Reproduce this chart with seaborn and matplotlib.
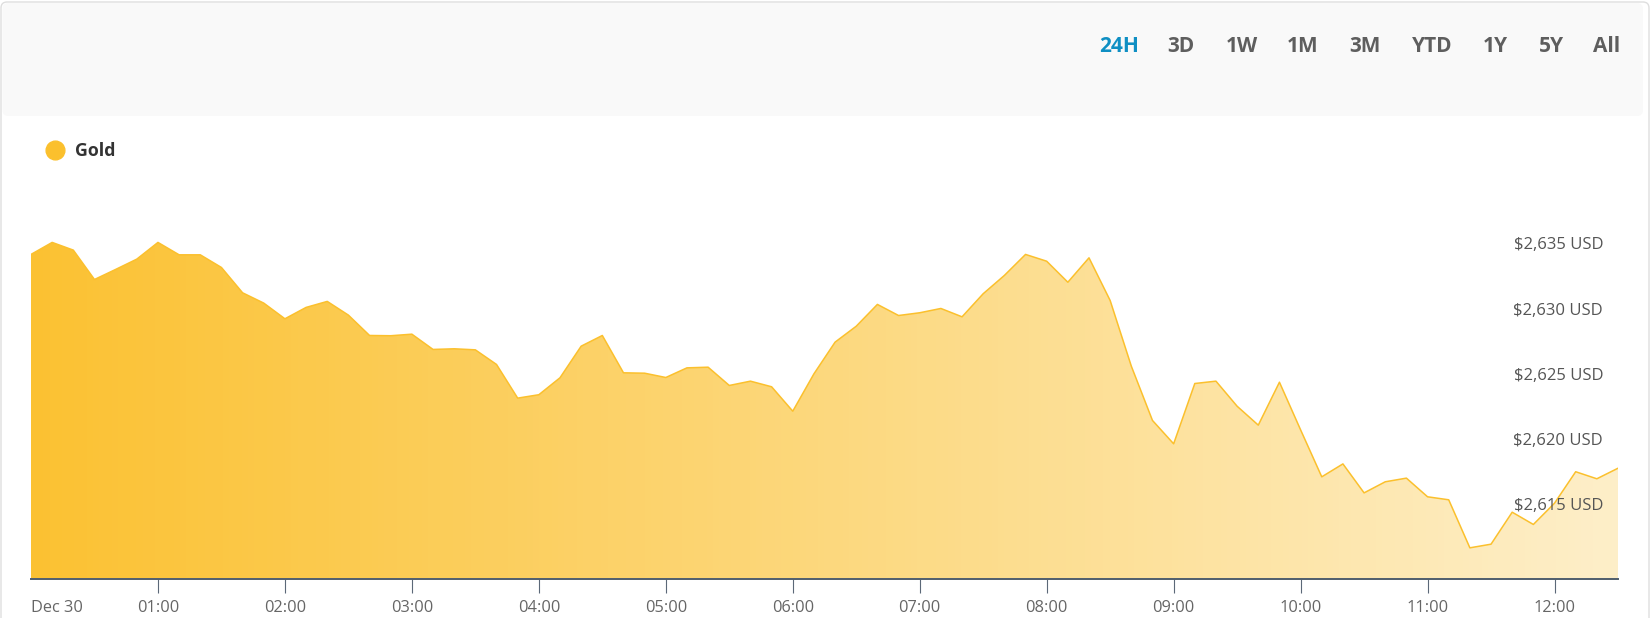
#!/usr/bin/env python3
# coding=utf-8

from matplotlib import pyplot as plt
from matplotlib.lines import Line2D
from matplotlib.patches import FancyBboxPatch, PathPatch
from matplotlib.colors import to_rgb
import seaborn as sns
import numpy as np
import pandas as pd

# gold price, Dec 30, one point every 10 minutes from 00:00 to 12:30
prices = [
    2634.16, 2635.08, 2634.49, 2632.24, 2633.01, 2633.80, 2635.08, 2634.13, 2634.13, 2633.16,
    2631.22, 2630.43, 2629.23, 2630.10, 2630.56, 2629.51, 2627.95, 2627.93, 2628.05, 2626.88,
    2626.93, 2626.85, 2625.73, 2623.15, 2623.41, 2624.71, 2627.13, 2627.95, 2625.09, 2625.06,
    2624.73, 2625.47, 2625.52, 2624.12, 2624.45, 2624.02, 2622.15, 2625.01, 2627.44, 2628.66,
    2630.33, 2629.48, 2629.69, 2630.02, 2629.38, 2631.15, 2632.55, 2634.16, 2633.64, 2632.03,
    2633.90, 2630.63, 2625.60, 2621.44, 2619.65, 2624.27, 2624.45, 2622.53, 2621.08, 2624.37,
    2620.72, 2617.12, 2618.11, 2615.89, 2616.74, 2617.02, 2615.59, 2615.36, 2611.68, 2611.96,
    2614.41, 2613.47, 2615.10, 2617.51, 2616.97, 2617.78,
]
minutes = [10 * i for i in range(len(prices))]

x_ticks = list(range(13))
x_labels = ["Dec 30", "01:00", "02:00", "03:00", "04:00", "05:00", "06:00",
            "07:00", "08:00", "09:00", "10:00", "11:00", "12:00"]
y_ticks = [2615, 2620, 2625, 2630, 2635]
y_labels = ["$2,615 USD", "$2,620 USD", "$2,625 USD", "$2,630 USD", "$2,635 USD"]
ranges = ["24H", "3D", "1W", "1M", "3M", "YTD", "1Y", "5Y", "All"]
range_x = [1119, 1181, 1242, 1303, 1365, 1432, 1495, 1551, 1607]

GOLD = "#fbc02d"
W, H = 1652, 618

df = pd.DataFrame({"hour": np.array(minutes) / 60.0, "price": prices})

sns.set_style("white")
plt.rcParams["font.family"] = ["Open Sans", "DejaVu Sans"]

fig = plt.figure(figsize=(W / 100, H / 100), dpi=100)
fig.patch.set_facecolor("white")

# card + header band (pixel units via inches)
card = FancyBboxPatch((1 / 100, -0.3), (W - 4) / 100, (H - 2) / 100 + 0.3,
                      boxstyle="round,pad=0,rounding_size=0.06",
                      transform=fig.dpi_scale_trans, facecolor="white",
                      edgecolor="#dedede", linewidth=1.0, zorder=-2)
header = FancyBboxPatch((2.5 / 100, (H - 116) / 100), (1643 - 2.5) / 100, 113 / 100,
                        boxstyle="round,pad=0,rounding_size=0.06",
                        transform=fig.dpi_scale_trans, facecolor="#f9f9f9",
                        edgecolor="none", zorder=-1)
fig.patches.extend([card, header])

for lab, xp in zip(ranges, range_x):
    fig.text(xp / W, 1 - 46.5 / H, lab, ha="center", va="center", fontsize=15,
             fontweight="bold", color="#0f8fc3" if lab == "24H" else "#5e5e5e")

# legend
fig.add_artist(Line2D([55 / W], [1 - 150 / H], transform=fig.transFigure, marker="o",
                      markersize=13.5, color=GOLD, linestyle="none"))
fig.text(75 / W, 1 - 150.5 / H, "Gold", ha="left", va="center", fontsize=12.8,
         fontweight="bold", color="#333333")

ax = fig.add_axes([31 / W, (H - 578.5) / H, (1618 - 31) / W, (578.5 - 200) / H])
ax.set_facecolor("none")

y0, y1 = 2609.33, 2638.33
x0, x1 = 0, df["hour"].iloc[-1]

sns.lineplot(data=df, x="hour", y="price", ax=ax, color=GOLD, linewidth=1.1, zorder=3)

# horizontal gradient fill under the line
poly = ax.fill_between(df["hour"], df["price"], y0, color="none", linewidth=0)
img = np.zeros((1, 256, 4))
img[..., :3] = to_rgb(GOLD)
img[..., 3] = np.linspace(0.98, 0.26, 256)
im = ax.imshow(img, extent=[x0, x1, y0, y1], aspect="auto", origin="lower", zorder=1)
clip = PathPatch(poly.get_paths()[0], transform=ax.transData, facecolor="none",
                 edgecolor="none")
ax.add_patch(clip)
im.set_clip_path(clip)

ax.set_xlim(x0, x1)
ax.set_ylim(y0, y1)

ax.set_xticks(x_ticks)
ax.set_xticklabels(x_labels)
ax.tick_params(axis="x", direction="out", length=10, width=0.8, color="#5b6878",
               pad=5.5, labelsize=11.8, labelcolor="#666666", bottom=True)
ax.get_xticklabels()[0].set_horizontalalignment("left")
ax.xaxis.get_major_ticks()[0].tick1line.set_visible(False)

ax.yaxis.tick_right()
ax.set_yticks(y_ticks)
ax.set_yticklabels(y_labels)
ax.tick_params(axis="y", length=0, pad=-10.8, labelsize=12, labelcolor="#555555")
for lab in ax.get_yticklabels():
    lab.set_horizontalalignment("right")
ax.yaxis.set_zorder(4)

ax.set_xlabel("")
ax.set_ylabel("")
for side in ["top", "left", "right"]:
    ax.spines[side].set_visible(False)
ax.spines["bottom"].set_color("#4f5d6b")
ax.spines["bottom"].set_linewidth(1.4)
ax.grid(False)

plt.savefig("out.png", dpi=100)
